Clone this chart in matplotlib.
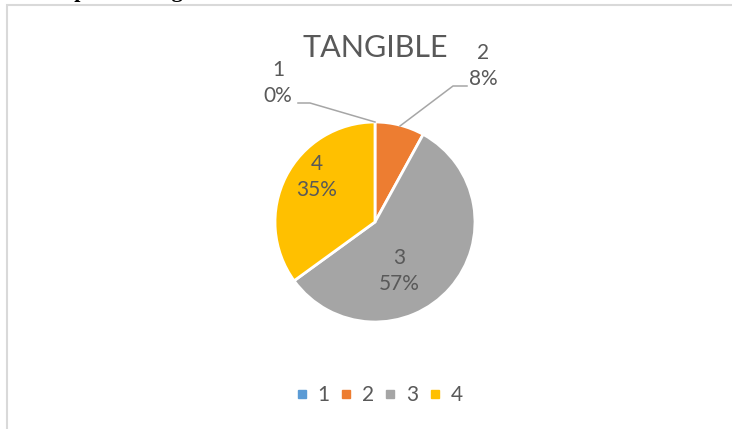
import matplotlib.pyplot as plt
from matplotlib.lines import Line2D
from matplotlib.patches import Rectangle

# data
categories = ["1", "2", "3", "4"]
values = [0, 8, 57, 35]
colors = ["#5B9BD5", "#ED7D31", "#A5A5A5", "#FFC000"]
title = "TANGIBLE"

txt = "#595959"
font = "Lato"

fig = plt.figure(figsize=(7.32, 4.29), dpi=100)
W, H = 732, 429

# cut-off heading of the document above the chart (only descenders show)
fig.text(36 / W, 1 + 3 / H, "Graph showing the result", fontsize=16, fontweight="bold",
         family="Liberation Serif", va="baseline", ha="left", color="black")

# chart area border
fig.patches.append(Rectangle((7 / W, -0.1), 1.0, 1 - 5 / H + 0.1, transform=fig.transFigure,
                             fill=False, edgecolor="#D9D9D9", linewidth=1.5))

cx, cy, r = 375, 222, 100
ax = fig.add_axes([(cx - r) / W, (H - cy - r) / H, 2 * r / W, 2 * r / H])
wedges, _ = ax.pie(values, colors=colors, startangle=90, counterclock=False,
                   wedgeprops=dict(edgecolor="white", linewidth=2))
ax.set_xlim(-1, 1)
ax.set_ylim(-1, 1)
ax.set_aspect("equal")
ax.axis("off")

fig.text(cx / W, 1 - 48 / H, title, fontsize=22, color=txt, family=font,
         ha="center", va="center")

pct = [f"{v}%" for v in values]
lab_kw = dict(fontsize=15, color=txt, family=font, ha="center", va="center",
              linespacing=1.4, clip_on=False)

# outside labels with leader lines
ax.text(-0.97, 1.39, f"{categories[0]}\n{pct[0]}", **lab_kw)
ax.plot([-0.77, -0.65, 0.0], [1.19, 1.19, 1.0], color="#A6A6A6", lw=1.1, clip_on=False)
ax.text(1.08, 1.56, f"{categories[1]}\n{pct[1]}", **lab_kw)
ax.plot([0.92, 0.78, 0.25], [1.36, 1.36, 0.96], color="#A6A6A6", lw=1.1, clip_on=False)

# inside labels
ax.text(0.24, -0.49, f"{categories[2]}\n{pct[2]}", **lab_kw)
ax.text(-0.58, 0.45, f"{categories[3]}\n{pct[3]}", **lab_kw)

handles = [Line2D([], [], marker="s", linestyle="none", markersize=5.5,
                  markerfacecolor=c, markeredgecolor=c) for c in colors]
fig.legend(handles, categories, loc="center", bbox_to_anchor=(379 / W, 1 - 395 / H),
           ncol=4, frameon=False, handlelength=0.6, handletextpad=0.45,
           columnspacing=0.5, prop=dict(family=font, size=15), labelcolor=txt)

fig.savefig("out.png", dpi=100)
